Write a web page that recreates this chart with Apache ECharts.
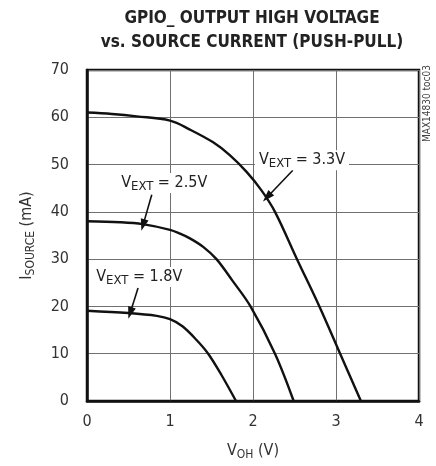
<!DOCTYPE html>
<html><head><meta charset="utf-8">
<script src="https://cdn.jsdelivr.net/npm/echarts@6/dist/echarts.min.js"></script>
<style>html,body{margin:0;padding:0;background:#fff}#c{width:436px;height:466px}</style>
</head><body><div id="c"></div>
<script>
const xTicks = [0, 1, 2, 3, 4];
const yTicks = [0, 10, 20, 30, 40, 50, 60, 70];
const v33 = [[0,61],[0.3,60.7],[0.6,60.2],[1,59.3],[1.24,57.4],[1.52,54.7],[1.72,52],[1.92,48.5],[2.1,44.6],[2.265,40],[2.53,30],[2.8,20],[3.05,10],[3.3,0]];
const v25 = [[0,38],[0.4,37.8],[0.67,37.4],[1.0,36.2],[1.12,35.4],[1.24,34.4],[1.4,32.6],[1.56,30],[1.75,25.5],[1.97,20],[2.265,10],[2.49,0]];
const v18 = [[0,19.1],[0.5,18.6],[0.84,18.0],[1.0,17.3],[1.15,15.8],[1.32,12.9],[1.46,10],[1.62,5.5],[1.795,0]];
const labels = [
  {name: '3.3V', at: [2.59, 50.9], from: [2.48, 48.8], to: [2.17, 43.1]},
  {name: '2.5V', at: [0.93, 46.1], from: [0.78, 43.6], to: [0.675, 37.2]},
  {name: '1.8V', at: [0.63, 26.2], from: [0.615, 23.9], to: [0.52, 18.6]}
];
const FONT = '"DejaVu Sans Condensed", "Liberation Sans Narrow", sans-serif';
const chart = echarts.init(document.getElementById('c'));
const mkLine = (data) => ({
  type: 'line', data: data, showSymbol: false, smooth: 0.35,
  lineStyle: {color: '#111', width: 2.4}, silent: true, z: 3
});
chart.setOption({
  animation: false,
  graphic: [
    {type: 'text', x: 252, y: 7, style: {text: 'GPIO_ OUTPUT HIGH VOLTAGE\nvs. SOURCE CURRENT (PUSH-PULL)', align: 'center', font: 'bold 17px ' + FONT, fill: '#222', lineHeight: 24}},
    {type: 'text', x: 422, y: 142, rotation: Math.PI / 2, style: {text: 'MAX14830 toc03', font: '10px ' + FONT, fill: '#444'}}
  ],
  grid: {left: 87, right: 17, top: 70, bottom: 65, show: true, borderColor: '#111', borderWidth: 2.5, backgroundColor: 'transparent'},
  xAxis: {
    type: 'value', min: 0, max: 4, interval: 1,
    axisLine: {show: true, lineStyle: {color: '#111', width: 2.5}},
    axisTick: {show: false},
    splitLine: {show: true, lineStyle: {color: '#707070', width: 1}},
    axisLabel: {margin: 13, fontFamily: FONT, fontSize: 16, color: '#333', formatter: v => xTicks.includes(v) ? String(v) : ''},
    name: '{a|V}{b|OH}{a| (V)}', nameLocation: 'middle', nameGap: 42,
    nameTextStyle: {rich: {a: {fontFamily: FONT, fontSize: 16, color: '#333', verticalAlign: 'bottom'}, b: {fontFamily: FONT, fontSize: 12, color: '#333', verticalAlign: 'bottom', padding: [0, 0, -2, 0]}}}
  },
  yAxis: {
    type: 'value', min: 0, max: 70, interval: 10,
    axisLine: {show: true, lineStyle: {color: '#111', width: 2.5}},
    axisTick: {show: false},
    splitLine: {show: true, lineStyle: {color: '#707070', width: 1}},
    axisLabel: {margin: 18, fontFamily: FONT, fontSize: 16, color: '#333', formatter: v => yTicks.includes(v) ? String(v) : ''},
    name: '{a|I}{b|SOURCE}{a| (mA)}', nameLocation: 'middle', nameGap: 52,
    nameTextStyle: {rich: {a: {fontFamily: FONT, fontSize: 16, color: '#333', verticalAlign: 'bottom'}, b: {fontFamily: FONT, fontSize: 12, color: '#333', verticalAlign: 'bottom', padding: [0, 0, -2, 0]}}}
  },
  series: [
    mkLine(v33), mkLine(v25), mkLine(v18),
    {
      type: 'line', data: [], silent: true, z: 5,
      markLine: {
        silent: true, symbol: ['none', 'triangle'], symbolSize: [8, 12], precision: 3,
        lineStyle: {color: '#111', width: 1.6, type: 'solid'}, label: {show: false},
        data: labels.map(l => [{coord: l.from}, {coord: l.to}])
      },
      markPoint: {
        silent: true, symbol: 'rect', symbolSize: 1, itemStyle: {color: 'rgba(0,0,0,0)'},
        label: {
          show: true, position: 'inside', backgroundColor: '#fff', padding: [2, 4],
          formatter: p => '{v|V}{s|EXT}{v| = ' + p.name + '}',
          rich: {v: {fontFamily: FONT, fontSize: 16, color: '#222', verticalAlign: 'bottom'}, s: {fontFamily: FONT, fontSize: 13, color: '#222', verticalAlign: 'bottom', padding: [0, 0, -2, 0]}}
        },
        data: labels.map(l => ({name: l.name, coord: l.at}))
      }
    }
  ]
});
</script></body></html>
